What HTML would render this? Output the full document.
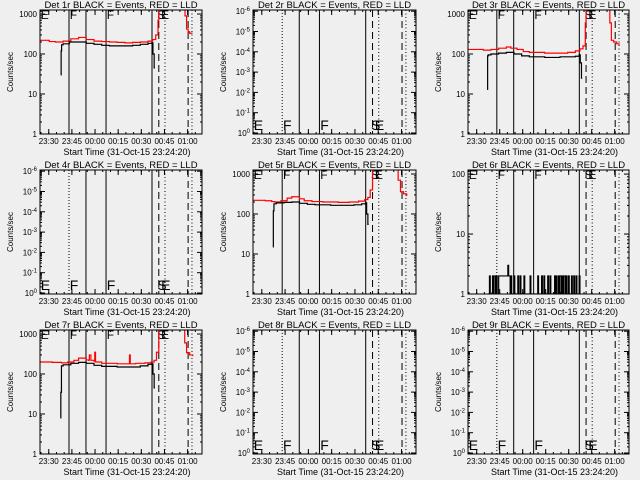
<!DOCTYPE html>
<html><head><meta charset="utf-8">
<style>
html,body{margin:0;padding:0;background:#efefef;}
svg{display:block;font-family:"Liberation Sans",sans-serif;}
</style></head>
<body>
<svg id="c" width="640" height="480" viewBox="0 0 640 480" xmlns="http://www.w3.org/2000/svg">
<rect width="640" height="480" fill="#efefef"/>
</svg>
<script>
// time axis: minutes since 23:24:20
const T_MAX = 105;
const xTickLabels = ["23:30","23:45","00:00","00:15","00:30","00:45","01:00"];
const xTickTimes = [5.67,20.67,35.67,50.67,65.67,80.67,95.67];
const solidLines = [29.8,42.8,72.6];
const firstLine = [18.8];
const dashedLines = [77,96];
const dottedLines = [81,98.5];
const markerLabels = ["E","F","F","S","E"];
const markerTimes = [0.5,19.3,43.3,76,78.5];
const detNames = ["1r","2r","3r","4r","5r","6r","7r","8r","9r"];

const t1Red = [0,6,10,15,20,25,30,35,40,45,50,55,60,65,70,73,75,76.5,77];
const v1Red = [220,205,200,210,240,260,230,210,205,200,195,190,195,200,210,230,300,700,2000];
const t1RedTail = [93.4,94,95,96,97,98.5];
const v1RedTail = [2000,900,420,360,330,320];
const t1Blk = [13.5,13.7,14,15,19,25,30,35,40,45,50,55,60,65,70,72.5,73.2,74,74.5];
const v1Blk = [30,120,170,180,200,200,185,175,165,160,160,160,165,175,185,190,100,45,45];

const t3Red = [0,10,15,20,25,28,32,36,40,50,60,65,70,73,75,76.5,77];
const v3Red = [130,125,130,140,150,140,130,115,110,105,105,110,120,135,160,600,2000];
const t3RedTail = [91.8,92.5,93.5,95,97,98.5];
const v3RedTail = [2000,600,220,200,180,170];
const t3Blk = [12.5,12.8,13.2,15,20,25,30,35,40,50,60,65,70,72.5,73.2,74,74.5];
const v3Blk = [13,90,95,100,105,110,100,90,85,82,85,85,88,95,60,25,25];

const t5Red = [0,8,12,14,18,22,25,30,33,38,45,55,62,68,72,74,75.5,77];
const v5Red = [220,215,205,200,215,250,270,240,215,205,200,195,200,210,230,260,400,2000];
const t5RedTail = [92.8,93.5,95,97,99];
const v5RedTail = [2000,700,360,320,280];
const t5Blk = [12.8,13.1,13.5,15,20,25,30,35,40,50,60,65,70,72.5,73.2,74,74.5];
const v5Blk = [15,120,180,190,195,200,185,175,170,165,165,170,180,190,100,55,55];

const t7Red = [0,8,14,18,22,25,30,31.5,32,33,35,35.5,36,40,50,57.5,58,58.5,62,68,72,74,75.5,77];
const v7Red = [200,195,190,200,220,250,225,220,300,220,210,350,200,185,180,180,300,180,185,190,200,220,350,2000];
const t7RedTail = [93,93.8,95,97,99];
const v7RedTail = [2000,600,340,300,280];
const t7Blk = [13.2,13.5,13.9,15,20,25,30,35,40,50,60,65,70,72.5,73.2,74,74.5];
const v7Blk = [8,35,160,170,185,195,185,165,155,150,150,160,175,180,100,45,45];

// det 6 low counts, sampled every 0.5 min from t6Start
const t6Start = 13;
const v6Blk = [1,1,2,1,1,1,2,1,2,2,1,2,1,1,2,2,2,2,2,2,2,2,2,2,2,2,3,2,2,1,2,1,1,1,2,1,1,1,1,2,1,1,2,1,1,1,1,2,1,1,1,1,1,1,1,2,1,1,1,1,1,1,1,1,1,2,1,1,1,1,2,1,1,2,1,1,1,1,2,1,1,2,1,1,1,1,1,2,1,2,1,1,2,1,2,2,1,2,1,2,2,1,2,1,1,2,1,1,1,2,1,1,2,1,1,2,1,1,1,2,1,1];

const NS="http://www.w3.org/2000/svg";
const svg=document.getElementById('c');
function mk(tag,attrs,parent){const e=document.createElementNS(NS,tag);for(const k in attrs)e.setAttribute(k,attrs[k]);(parent||svg).appendChild(e);return e;}

const colLeft=[40,253,468], colW=[162,163,161], rowTop=[10,170,330], PH=124;

function panel(i){
  const col=i%3,row=Math.floor(i/3);
  const L=colLeft[col],W=colW[col],Tp=rowTop[row],B=Tp+PH;
  const g=mk('g',{});
  
  
  const xs=t=>L+t/T_MAX*W;
  let kind = [0,2,4,6].includes(i)?'data':(i===5?'det6':'empty');
  let ys;
  if(kind==='data'){const hi=Math.log10(1260);ys=v=>B-Math.log10(v)/hi*PH;}
  else if(kind==='det6'){const hi=Math.log10(117);ys=v=>B-Math.log10(v)/hi*PH;}
  else {ys=k=>B-1-k*20.3;}
  const clip=mk('clipPath',{id:'cp'+i},g);mk('rect',{x:L,y:Tp,width:W,height:PH},clip);
  const title=mk('text',{x:L+W/2,y:Tp-2,'text-anchor':'middle','font-size':'9.5'},g);
  title.textContent='Det '+detNames[i]+' BLACK = Events, RED = LLD';
  
  
  const yt=mk('text',{x:0,y:0,'text-anchor':'middle','font-size':'8',transform:'translate('+(L-27)+','+(Tp+PH/2)+') rotate(-90)'},g);
  yt.textContent='Counts/sec';
  
  
  const xt=mk('text',{x:L+W/2+6,y:B+21,'text-anchor':'middle','font-size':'9'},g);
  xt.textContent='Start Time (31-Oct-15 23:24:20)';
  
  
  xTickTimes.forEach((t,k)=>{
    const x=xs(t);
    mk('line',{x1:x,x2:x,y1:B,y2:B-5,stroke:'#000'},g);
    mk('line',{x1:x,x2:x,y1:Tp,y2:Tp+5,stroke:'#000'},g);
    const lb=mk('text',{x:x,y:B+10,'text-anchor':'middle','font-size':'8'},g);
    lb.textContent=xTickLabels[k];
    
    
  });
  for(let t=0.67;t<T_MAX;t+=5){const x=xs(t);mk('line',{x1:x,x2:x,y1:B,y2:B-2,stroke:'#000'},g);mk('line',{x1:x,x2:x,y1:Tp,y2:Tp+2,stroke:'#000'},g);}
  function ytick(y,len){mk('line',{x1:L,x2:L+len,y1:y,y2:y,stroke:'#000'},g);mk('line',{x1:L+W,x2:L+W-len,y1:y,y2:y,stroke:'#000'},g);}
  function ylab(y,txt,sup){const e=mk('text',{x:L-3,y:y+3,'text-anchor':'end','font-size':'8'},g);e.textContent=txt;if(sup){const s=mk('tspan',{dy:'-3','font-size':'6'},e);s.textContent=sup;}}
  if(kind==='data'){
    ["1","10","100","1000"].forEach((s,d)=>{ytick(ys(Math.pow(10,d)),5);ylab(ys(Math.pow(10,d)),s);});
    for(let d=0;d<4;d++)for(let m=2;m<10;m++){const v=m*Math.pow(10,d);if(v<1260)ytick(ys(v),2);}
  } else if(kind==='det6'){
    ["1","10","100"].forEach((s,d)=>{ytick(ys(Math.pow(10,d)),5);ylab(ys(Math.pow(10,d)),s);});
    for(let d=0;d<3;d++)for(let m=2;m<10;m++){const v=m*Math.pow(10,d);if(v<117)ytick(ys(v),2);}
  } else {
    const sups=["0","-1","-2","-3","-4","-5","-6"];
    sups.forEach((s,k)=>{ytick(ys(k),5);ylab(ys(k),'10',s);});
    for(let k=0;k<6;k++)for(let m=2;m<10;m++){ytick(ys(k)-Math.log10(m)*20.3,2);}
  }
  const cg=mk('g',{'clip-path':'url(#cp'+i+')'},g);
  firstLine.forEach(t=>{mk('line',{x1:xs(t),x2:xs(t),y1:Tp,y2:B,stroke:'#000','stroke-dasharray':kind==='data'?'none':'1,2'},cg);});
  solidLines.forEach(t=>mk('line',{x1:xs(t),x2:xs(t),y1:Tp,y2:B,stroke:'#000'},cg));
  dashedLines.forEach(t=>mk('line',{x1:xs(t),x2:xs(t),y1:Tp,y2:B,stroke:'#000','stroke-dasharray':'7,4'},cg));
  dottedLines.forEach(t=>mk('line',{x1:xs(t),x2:xs(t),y1:Tp,y2:B,stroke:'#000','stroke-dasharray':'1,2.5'},cg));
  const my=(kind==='empty')?B-4:Tp+9;
  markerLabels.forEach((s,k)=>{const e=mk('text',{x:xs(markerTimes[k]),y:my,'font-size':kind==='empty'?'14':'12'},cg);e.textContent=s;});
  function step(ts,vs,color,name){
    let d='';for(let k=0;k<ts.length;k++){const x=xs(ts[k]),y=ys(vs[k]);if(k===0)d='M'+x+','+y;else d+=' H'+x+' V'+y;}
    const p=mk('path',{d:d,fill:'none',stroke:color,'stroke-width':1.2},cg);
    
    
  }
  if(i===0){step(t1Red,v1Red,'#f00','lld-series');step(t1RedTail,v1RedTail,'#f00','lld-series-tail');step(t1Blk,v1Blk,'#000','events-series');}
  if(i===2){step(t3Red,v3Red,'#f00','lld-series');step(t3RedTail,v3RedTail,'#f00','lld-series-tail');step(t3Blk,v3Blk,'#000','events-series');}
  if(i===4){step(t5Red,v5Red,'#f00','lld-series');step(t5RedTail,v5RedTail,'#f00','lld-series-tail');step(t5Blk,v5Blk,'#000','events-series');}
  if(i===6){step(t7Red,v7Red,'#f00','lld-series');step(t7RedTail,v7RedTail,'#f00','lld-series-tail');step(t7Blk,v7Blk,'#000','events-series');}
  if(i===5){const ts=v6Blk.map((v,k)=>t6Start+k*0.5);step(ts,v6Blk,'#000','events-series');}
  const fr=mk('rect',{x:L,y:Tp,width:W,height:PH,fill:'none',stroke:'#000','stroke-width':1},g);
  
  
}
for(let i=0;i<9;i++)panel(i);
</script>
</body></html>
